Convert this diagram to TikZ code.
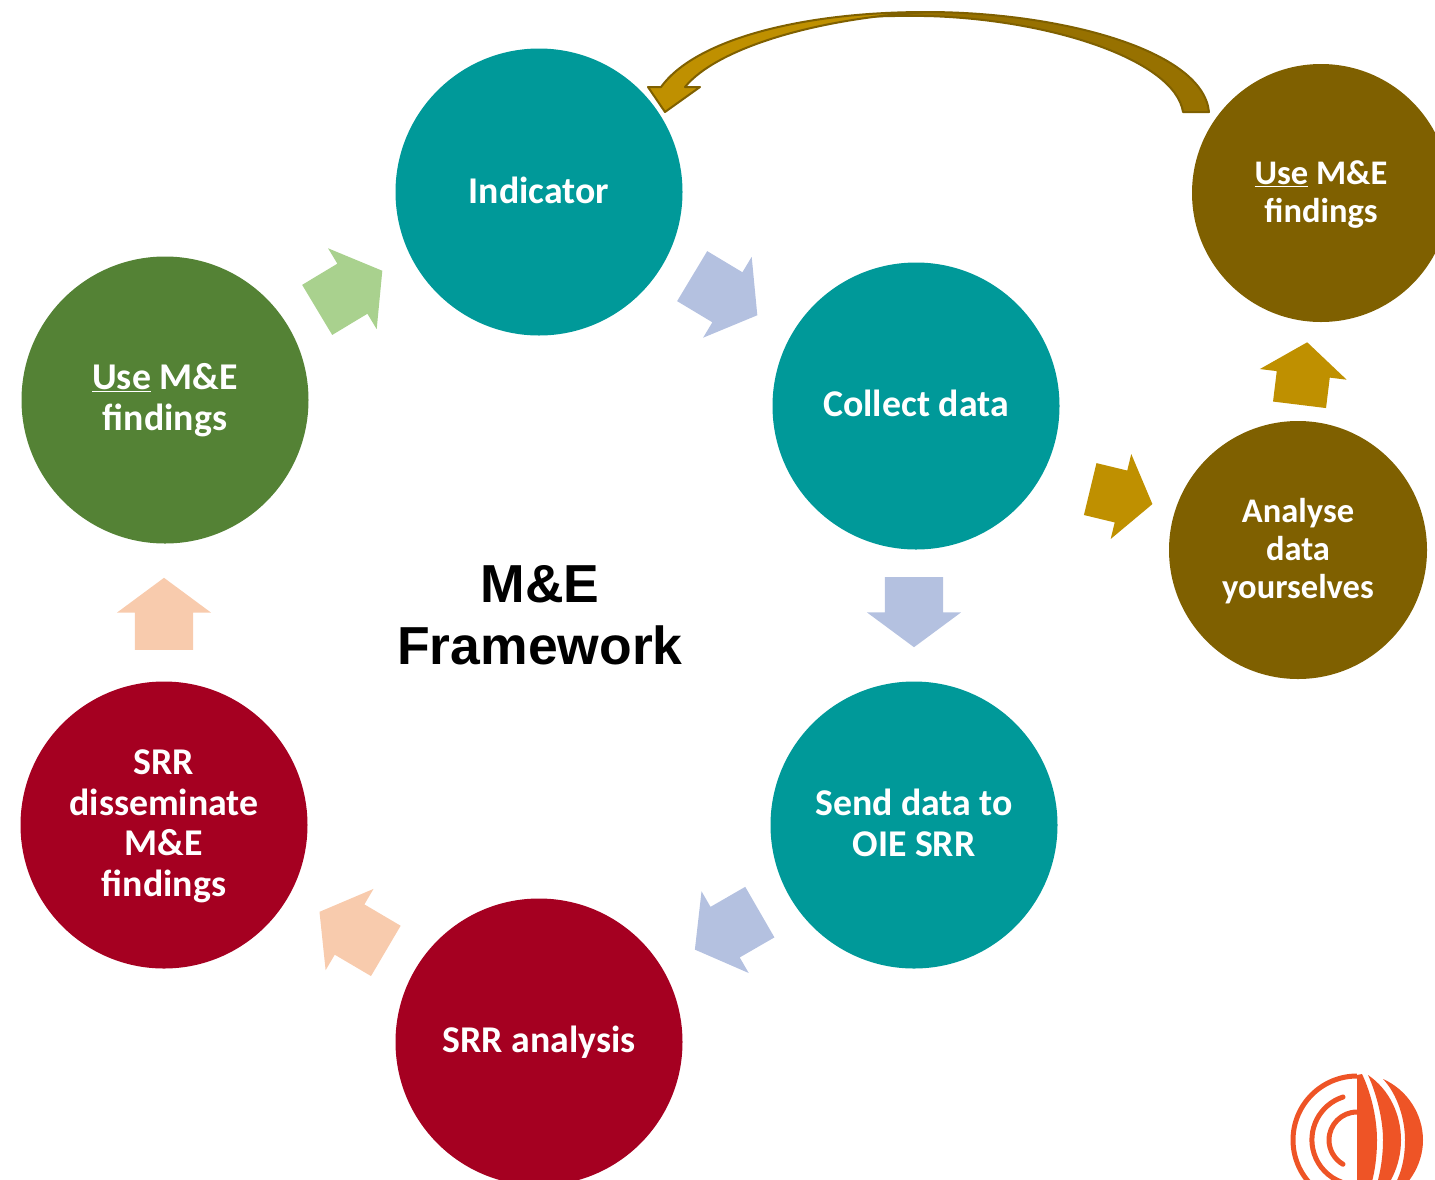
\documentclass[tikz,border=0pt]{standalone}
\usepackage{fontspec}
\setmainfont{Carlito}
\newfontfamily\headfont{Liberation Sans}
\usetikzlibrary{shapes.arrows,positioning}
\definecolor{tealstage}{HTML}{009999}
\definecolor{brownstage}{HTML}{7F6000}
\definecolor{redstage}{HTML}{A50021}
\definecolor{greenstage}{HTML}{548235}
\definecolor{goldflow}{HTML}{BF9000}
\definecolor{darkflow}{HTML}{977100}
\definecolor{blueflow}{HTML}{B4C1E0}
\definecolor{greenflow}{HTML}{A9D18E}
\definecolor{peachflow}{HTML}{F8CBAD}
\definecolor{logoorange}{HTML}{EE5426}

\begin{document}
\begin{tikzpicture}[x=1pt,y=-1pt]
  \tikzstyle{stage}=[circle,text=white,align=center,inner sep=0pt,minimum size=287pt,font=\fontsize{37.8}{40.7}\selectfont\bfseries]
  \tikzstyle{side}=[stage,fill=brownstage,minimum size=258pt,font=\fontsize{34.5}{38}\selectfont\bfseries]
  \tikzstyle{flow}=[single arrow,anchor=tail,inner xsep=0pt,inner ysep=29pt,single arrow tip angle=107,single arrow head extend=18pt]
  \tikzstyle{smallflow}=[flow,fill=goldflow,inner ysep=26.5pt,single arrow head extend=17pt]

  \useasboundingbox (0,0) rectangle (1435,1179);
  \clip (0,0) rectangle (1435,1179);

  \node[stage,fill=tealstage,text depth=4pt] (indicator) at (539,192) {Indicator};
  \node[stage,fill=tealstage,text depth=6pt] (collect) at (916,406) {Collect data};
  \node[stage,fill=tealstage,text depth=4pt] (send) at (914,825) {Send data to\\OIE SRR};
  \node[stage,fill=redstage] (analysis) at (539,1042) {SRR analysis};
  \node[stage,fill=redstage,text depth=3.6pt] (disseminate) at (164,825) {SRR\\disseminate\\M\&E\\findings};
  \node[stage,fill=greenstage,text depth=5.5pt] (use) at (165,400) {\underline{Use} M\&E\\findings};
  \node[side,text depth=2.5pt] (analyse) at (1298,550) {Analyse\\data\\yourselves};
  \node[side,text depth=2.5pt] (useown) at (1321,193) {\underline{Use} M\&E\\findings};

  \node[align=center,font=\headfont\fontsize{53.5}{62}\selectfont\bfseries] (title) at (540,615) {M\&E\\Framework};

  \node[flow,fill=blueflow,rotate=-31,minimum height=76pt] (flowa) at (692,276) {};
  \node[flow,fill=blueflow,rotate=-90,minimum height=70pt] (flowb) at (914,577) {};
  \node[flow,fill=blueflow,rotate=210,minimum height=75pt] (flowc) at (760,912) {};
  \node[flow,fill=peachflow,rotate=149.5,minimum height=77pt] (flowd) at (386,951) {};
  \node[flow,fill=peachflow,rotate=90,minimum height=72pt] (flowe) at (164,650) {};
  \node[flow,fill=greenflow,rotate=31,minimum height=76pt] (flowf) at (317,310) {};
  \node[smallflow,rotate=-13.6,minimum height=64pt] (flowg) at (1090,489) {};
  \node[smallflow,rotate=83,minimum height=63pt] (flowh) at (1299.5,405) {};

  \coordinate (backtail) at (1209,112);
  \coordinate (backtop) at (926,12);
  \coordinate (backtip) at (665,112);

  \draw[draw=brownstage,line width=2pt,fill=darkflow,line join=round] (backtail) .. controls (1203,50) and (1060,12) .. (backtop) -- (820,20) .. controls (880,15) and (905,16) .. (926,16) .. controls (1050,19) and (1175,60) .. (1183,112) -- cycle;
  \draw[draw=brownstage,line width=2pt,fill=goldflow,line join=round] (backtop) .. controls (800,12) and (695,40) .. (661,87) -- (648,87) -- (backtip) -- (700,87) -- (685,87) .. controls (715,50) and (810,19) .. (backtop);

  \draw[logoorange,line width=5pt] (1357,1076) arc[start angle=-90,end angle=-270,radius=64];
  \draw[logoorange,line width=5pt,line cap=round] (1343,1097) arc[start angle=-108,end angle=-250,radius=45];
  \draw[logoorange,line width=5pt,line cap=round] (1357,1112) arc[start angle=-90,end angle=-240,radius=28];
  \fill[logoorange] (1357,1075) -- (1362,1074) .. controls (1372,1095) and (1377,1120) .. (1377,1140) .. controls (1377,1165) and (1372,1190) .. (1362,1206) -- (1357,1206) -- cycle;
  \fill[logoorange] (1368,1075) .. controls (1377,1095) and (1383,1120) .. (1383,1140) .. controls (1383,1165) and (1377,1190) .. (1368,1206) .. controls (1390,1190) and (1401,1165) .. (1401,1140) .. controls (1401,1115) and (1390,1090) .. (1368,1075);
  \fill[logoorange] (1383,1079) .. controls (1398,1095) and (1405,1120) .. (1405,1140) .. controls (1405,1165) and (1398,1185) .. (1383,1201) .. controls (1408,1190) and (1423,1165) .. (1423,1140) .. controls (1423,1115) and (1408,1090) .. (1383,1079);

\end{tikzpicture}
\end{document}
